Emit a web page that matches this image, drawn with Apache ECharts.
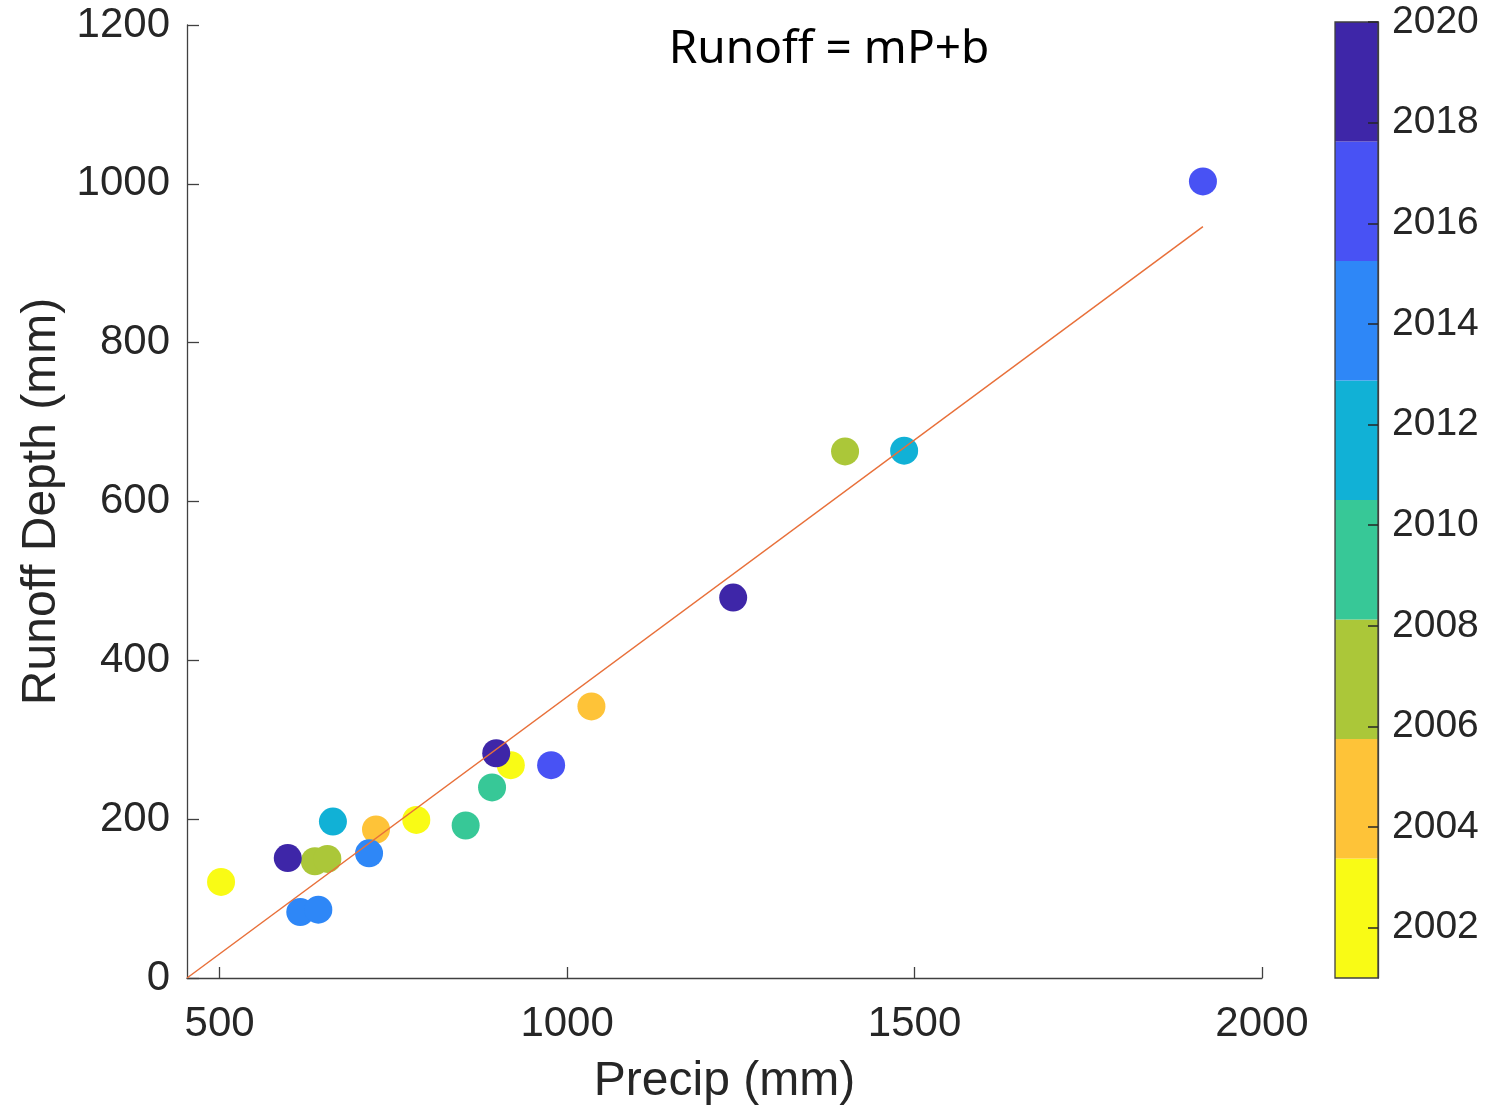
<!DOCTYPE html>
<html>
<head>
<meta charset="utf-8">
<script src="https://cdn.jsdelivr.net/npm/echarts@6/dist/echarts.min.js"></script>
<style>
  html, body { margin: 0; padding: 0; background: #fff; }
  #chart { width: 1489px; height: 1105px; }
</style>
</head>
<body>
<div id="chart"></div>
<script>
  // values
  const years = [2001, 2002, 2003, 2004, 2005, 2006, 2007, 2008, 2009, 2010,
                 2011, 2012, 2013, 2014, 2015, 2016, 2017, 2018, 2019, 2020];
  const precip = [502, 783, 919, 725, 1035, 637, 655, 1400, 854, 892,
                  663, 1485, 616, 642, 715, 977, 1915, 598, 898, 1239];
  const runoff = [121, 199, 268, 187, 342, 147, 150, 663, 192, 240,
                  197, 664, 83, 86, 157, 268, 1003, 151, 283, 479];

  // fitted line ends
  const fitX = [453, 1915];
  const fitY = [0, 946];

  const xTicks = [500, 1000, 1500, 2000];
  const yearTicks = [2002, 2004, 2006, 2008, 2010, 2012, 2014, 2016, 2018, 2020];

  // parula, 8 levels, low -> high
  const parula = ['#F9FB15', '#FEC338', '#ABC739', '#37C897', '#11B1D6', '#2E87F7', '#4852F4', '#3E26A8'];
  const yearMin = 2001;
  const yearMax = 2020;

  const step = (yearMax - yearMin) / parula.length;
  const pieces = parula.map((c, i) => ({
    gte: yearMin + i * step,
    lt: i === parula.length - 1 ? yearMax + 1 : yearMin + (i + 1) * step,
    color: c,
  }));

  const textColor = '#262626';
  const axisColor = '#404040';
  const font = '"Liberation Sans", Arial, Helvetica, sans-serif';
  const plain = (v) => String(v);

  const chart = echarts.init(document.getElementById('chart'));

  const colorbarSeries = parula.map((c, i) => ({
    type: 'bar',
    xAxisIndex: 1,
    yAxisIndex: 1,
    stack: 'cb',
    barWidth: '100%',
    silent: true,
    z: 1,
    itemStyle: { color: c },
    data: [i === 0 ? yearMin + step : step],
  }));

  const option = {
    animation: false,
    title: {
      text: 'Runoff = mP+b',
      left: 824,
      top: 22,
      textAlign: 'center',
      textStyle: {
        fontFamily: '"Noto Sans", "Open Sans", sans-serif',
        fontWeight: 'normal',
        fontSize: 46,
        color: '#000',
      },
    },
    visualMap: {
      type: 'piecewise',
      show: false,
      seriesIndex: 0,
      dimension: 2,
      pieces: pieces,
    },
    grid: [
      { left: 187, top: 25, width: 1075, height: 953, outerBoundsMode: 'none', containLabel: false },
      { left: 1335, top: 22, width: 43, height: 956, outerBoundsMode: 'none', containLabel: false,
        show: true, z: 10, borderColor: axisColor, borderWidth: 1.3, backgroundColor: 'transparent' },
    ],
    xAxis: [
      {
        type: 'value',
        gridIndex: 0,
        min: 453,
        max: 2000,
        name: 'Precip (mm)',
        nameLocation: 'middle',
        nameGap: 80,
        nameTextStyle: { fontFamily: font, fontSize: 48, color: textColor },
        splitLine: { show: false },
        axisLine: { show: true, lineStyle: { color: axisColor, width: 1.3 } },
        axisTick: { show: true, inside: true, length: 11, customValues: xTicks,
          lineStyle: { color: axisColor, width: 1.3 } },
        axisLabel: { customValues: xTicks, formatter: plain, margin: 25,
          fontFamily: font, fontSize: 42, color: textColor },
      },
      {
        type: 'category',
        gridIndex: 1,
        data: ['cb'],
        show: false,
      },
    ],
    yAxis: [
      {
        type: 'value',
        gridIndex: 0,
        min: 0,
        max: 1200,
        interval: 200,
        name: 'Runoff Depth (mm)',
        nameLocation: 'middle',
        nameGap: 114,
        nameRotate: 90,
        nameTextStyle: { fontFamily: font, fontSize: 48, color: textColor },
        splitLine: { show: false },
        axisLine: { show: true, lineStyle: { color: axisColor, width: 1.3 } },
        axisTick: { show: true, inside: true, length: 12, lineStyle: { color: axisColor, width: 1.3 } },
        axisLabel: { formatter: plain, margin: 17, padding: [4, 0, 0, 0],
          fontFamily: font, fontSize: 42, color: textColor },
      },
      {
        type: 'value',
        gridIndex: 1,
        position: 'right',
        min: yearMin,
        max: yearMax,
        z: 20,
        splitLine: { show: false },
        axisLine: { show: true, lineStyle: { color: axisColor, width: 1.3 } },
        axisTick: { show: true, inside: true, length: 10, customValues: yearTicks,
          lineStyle: { color: '#262626', width: 1.5 } },
        axisLabel: { customValues: yearTicks, formatter: plain, margin: 14, padding: [12, 0, 0, 0],
          fontFamily: font, fontSize: 39, color: textColor },
      },
    ],
    series: [
      {
        type: 'scatter',
        xAxisIndex: 0,
        yAxisIndex: 0,
        symbolSize: 28,
        z: 2,
        itemStyle: { opacity: 1 },
        data: years.map((y, i) => [precip[i], runoff[i], y]),
      },
      {
        type: 'line',
        xAxisIndex: 0,
        yAxisIndex: 0,
        z: 3,
        showSymbol: false,
        lineStyle: { color: '#E8703A', width: 1.5 },
        data: fitX.map((x, i) => [x, fitY[i]]),
      },
      ...colorbarSeries,
    ],
  };

  chart.setOption(option);
</script>
</body>
</html>
